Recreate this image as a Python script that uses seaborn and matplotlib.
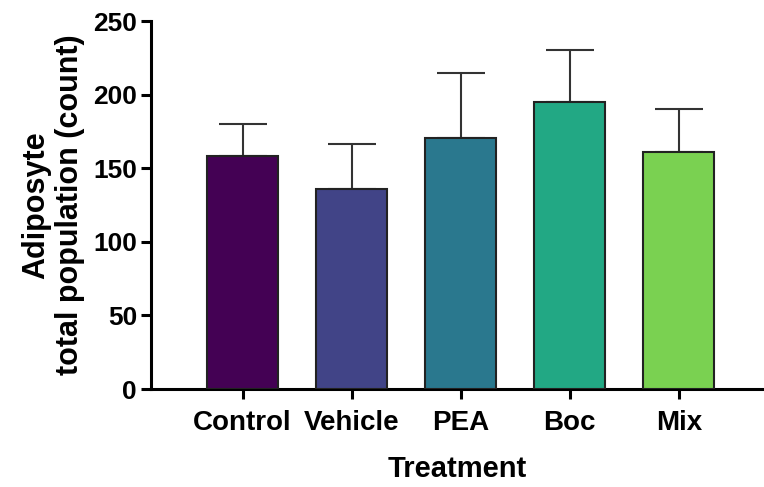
import matplotlib
matplotlib.use("Agg")
import matplotlib.pyplot as plt
import seaborn as sns
import pandas as pd
import numpy as np

categories = ["Control", "Vehicle", "PEA", "Boc", "Mix"]
means = [158.5, 135.9, 170.7, 195.0, 161.0]
sds = [21.5, 30.5, 44.0, 35.0, 29.4]
colors = ["#440154", "#414487", "#2A788E", "#22A884", "#7AD151"]
yticks = [0, 50, 100, 150, 200, 250]

sns.set_style("ticks")
plt.rcParams["font.family"] = ["Liberation Sans", "DejaVu Sans"]
plt.rcParams["font.weight"] = "bold"
plt.rcParams["text.color"] = "black"
plt.rcParams["axes.labelcolor"] = "black"
plt.rcParams["xtick.color"] = "black"
plt.rcParams["ytick.color"] = "black"

df = pd.DataFrame({"Treatment": categories, "Count": means})

fig = plt.figure(figsize=(7.64, 4.87), dpi=100)
ax = fig.add_axes([0.1976, 0.2012, 0.8024, 0.7556])

sns.barplot(data=df, x="Treatment", y="Count", hue="Treatment",
            palette=colors, width=0.65, legend=False, errorbar=None,
            edgecolor="#222222", linewidth=1.5, saturation=1, ax=ax, zorder=3)

ax.errorbar(x=np.arange(len(categories)), y=means,
            yerr=[np.zeros(len(sds)), sds], fmt="none",
            ecolor="#333333", elinewidth=1.5, capsize=17, capthick=1.5, zorder=2)

ax.set_xlim(-0.84, 4.78)
ax.set_ylim(0, 250)
ax.set_yticks(yticks)
ax.set_yticklabels([str(t) for t in yticks], fontsize=19, fontweight="bold",
                   color="black")
ax.set_xticks(range(len(categories)))
ax.set_xticklabels(categories, fontsize=20, fontweight="bold", color="black")

for s in ["top", "right"]:
    ax.spines[s].set_visible(False)
for s in ["left", "bottom"]:
    ax.spines[s].set_linewidth(2.2)
    ax.spines[s].set_color("black")
ax.tick_params(axis="both", length=7, width=2.2, color="black")
ax.tick_params(axis="x", pad=8)
ax.tick_params(axis="y", pad=3)

ax.set_xlabel("Treatment", fontsize=21, fontweight="bold", labelpad=14,
              color="black")
ax.set_ylabel("Adiposyte\ntotal population (count)", fontsize=22,
              fontweight="bold", labelpad=6, linespacing=1.15, color="black")

fig.savefig("out.png", dpi=100)
